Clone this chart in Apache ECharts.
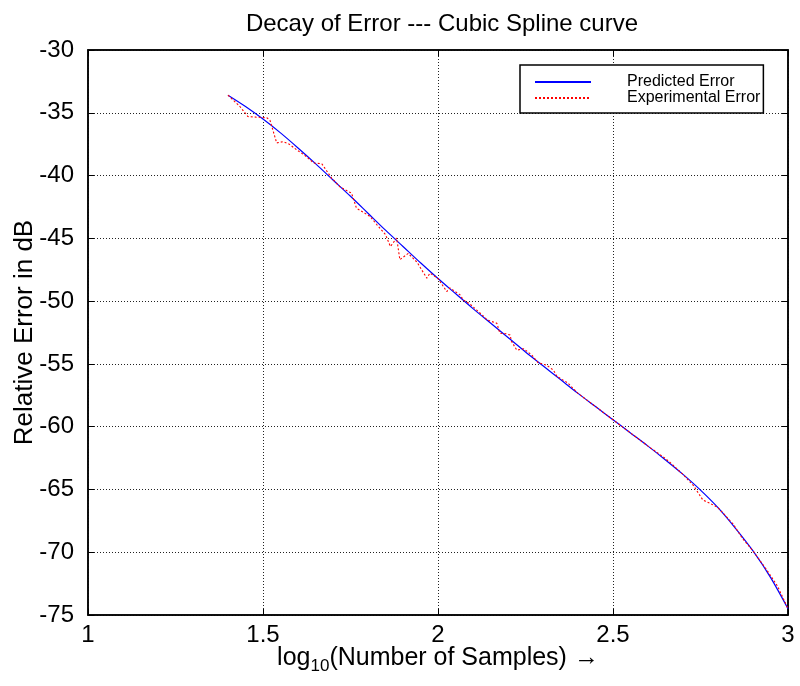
<!DOCTYPE html>
<html><head><meta charset="utf-8">
<script src="https://cdn.jsdelivr.net/npm/echarts@6/dist/echarts.min.js"></script>
<style>html,body{margin:0;padding:0;background:#fff}#c{width:800px;height:686px}</style>
</head><body><div id="c"></div>
<script>
const titleText = 'Decay of Error --- Cubic Spline curve';
const xTicks = [1, 1.5, 2, 2.5, 3];
const yTicks = [-30, -35, -40, -45, -50, -55, -60, -65, -70, -75];

const predX = [1.40,1.45,1.50,1.55,1.60,1.65,1.70,1.75,1.80,1.85,1.90,1.95,2.00,2.05,2.10,2.15,2.20,2.25,2.30,2.35,2.40,2.45,2.50,2.55,2.60,2.65,2.70,2.75,2.80,2.85,2.90,2.95,3.00];
const predY = [-33.6,-34.5,-35.5,-36.6,-37.8,-39.05,-40.35,-41.65,-43.0,-44.35,-45.65,-46.95,-48.2,-49.4,-50.6,-51.75,-52.9,-54.05,-55.15,-56.25,-57.35,-58.4,-59.45,-60.5,-61.55,-62.65,-63.8,-65.05,-66.45,-68.1,-69.9,-72.0,-74.5];

const expX = [1.40,1.434,1.457,1.48,1.511,1.52,1.539,1.557,1.575,1.596,1.62,1.645,1.668,1.696,1.72,1.744,1.753,1.767,1.785,1.806,1.825,1.85,1.864,1.882,1.891,1.915,1.94,1.968,1.977,2.0,2.025,2.034,2.063,2.072,2.09,2.11,2.13,2.14,2.168,2.177,2.195,2.206,2.21,2.225,2.245,2.268,2.286,2.31,2.33,2.34,2.37,2.40,2.45,2.50,2.55,2.60,2.643,2.663,2.70,2.73,2.757,2.777,2.80,2.843,2.87,2.90,2.939,2.97,3.00];
const expY = [-33.6,-34.5,-35.3,-35.35,-35.4,-35.6,-37.4,-37.3,-37.5,-37.95,-38.4,-39.0,-39.06,-40.2,-40.9,-41.27,-41.4,-42.6,-42.9,-43.26,-43.9,-44.7,-45.65,-44.98,-46.7,-46.2,-46.9,-48.17,-47.77,-48.2,-49.24,-48.95,-49.5,-49.9,-50.2,-50.7,-51.2,-51.5,-51.76,-52.56,-52.6,-52.7,-53.2,-53.9,-53.8,-54.3,-54.9,-55.1,-55.5,-56.0,-56.5,-57.35,-58.4,-59.45,-60.5,-61.55,-62.4,-62.85,-63.8,-64.7,-65.85,-66.1,-66.45,-67.75,-68.9,-69.9,-71.4,-72.7,-74.5];

const toPairs = (xs, ys) => xs.map((x, i) => [x, ys[i]]);

const chart = echarts.init(document.getElementById('c'));
const font = 'Liberation Sans, Arial, Helvetica, sans-serif';
chart.setOption({
  animation: false,
  backgroundColor: '#fff',
  title: {
    text: titleText, left: 437, top: 7, textAlign: 'center',
    textStyle: { fontFamily: font, fontSize: 24, fontWeight: 'normal', color: '#000' }
  },
  legend: {
    left: 520, top: 65, orient: 'vertical',
    borderColor: '#000', borderWidth: 1.5, backgroundColor: '#fff',
    padding: [9, 3, 7, 14], itemGap: 0, itemWidth: 56, itemHeight: 10,
    itemStyle: { opacity: 0 },
    textStyle: { fontFamily: font, fontSize: 16, lineHeight: 15, color: '#000', padding: [0, 0, 0, 31] },
    data: ['Predicted Error', 'Experimental Error']
  },
  grid: { left: 88, right: 12, top: 50, bottom: 71, show: true, borderColor: '#000', borderWidth: 1.5,
    containLabel: false, outerBoundsMode: 'none' },
  xAxis: [{
    type: 'value', min: 1, max: 3, interval: 0.5,
    axisLine: { show: true, lineStyle: { color: '#000', width: 1.5 } },
    axisTick: { show: true, inside: true, length: 6, lineStyle: { color: '#000' } },
    axisLabel: { fontFamily: font, fontSize: 24, color: '#000', margin: 8,
      formatter: v => xTicks.includes(v) ? String(v) : '' },
    splitLine: { show: true, lineStyle: { color: '#222', type: [1, 2], width: 1 } },
    name: '{n|log}{s|10}{n|(Number of Samples) →}',
    nameLocation: 'middle', nameGap: 26, nameMoveOverlap: false,
    nameTextStyle: { rich: {
      n: { fontFamily: font, fontSize: 25, color: '#000' },
      s: { fontFamily: font, fontSize: 17, color: '#000', verticalAlign: 'bottom', padding: [17, 0, 0, 0] }
    } }
  }, {
    type: 'value', min: 1, max: 3, interval: 0.5, position: 'top',
    axisLine: { show: true, lineStyle: { color: '#000', width: 1.5 } },
    axisTick: { show: true, inside: true, length: 6, lineStyle: { color: '#000' } },
    axisLabel: { show: false }, splitLine: { show: false }
  }],
  yAxis: [{
    type: 'value', min: -75, max: -30, interval: 5,
    axisLine: { show: true, lineStyle: { color: '#000', width: 1.5 } },
    axisTick: { show: true, inside: true, length: 6, lineStyle: { color: '#000' } },
    axisLabel: { fontFamily: font, fontSize: 24, color: '#000', margin: 14,
      formatter: v => yTicks.includes(v) ? String(v) : '' },
    splitLine: { show: true, lineStyle: { color: '#222', type: [1, 2], width: 1 } },
    name: 'Relative Error in dB', nameLocation: 'middle', nameGap: 50, nameRotate: 90, nameMoveOverlap: false,
    nameTextStyle: { fontFamily: font, fontSize: 26, color: '#000' }
  }, {
    type: 'value', min: -75, max: -30, interval: 5, position: 'right',
    axisLine: { show: true, lineStyle: { color: '#000', width: 1.5 } },
    axisTick: { show: true, inside: true, length: 6, lineStyle: { color: '#000' } },
    axisLabel: { show: false }, splitLine: { show: false }
  }],
  series: [{
    name: 'Predicted Error', type: 'line', data: toPairs(predX, predY),
    smooth: 0.3, showSymbol: false, symbol: 'none',
    lineStyle: { color: '#0000ff', width: 1.2 }, itemStyle: { color: '#0000ff' }, z: 3
  }, {
    name: 'Experimental Error', type: 'line', data: toPairs(expX, expY),
    showSymbol: false, symbol: 'none',
    lineStyle: { color: '#ff0000', width: 1.1, type: [2, 2] }, itemStyle: { color: '#ff0000' }, z: 4
  }]
});
</script></body></html>
